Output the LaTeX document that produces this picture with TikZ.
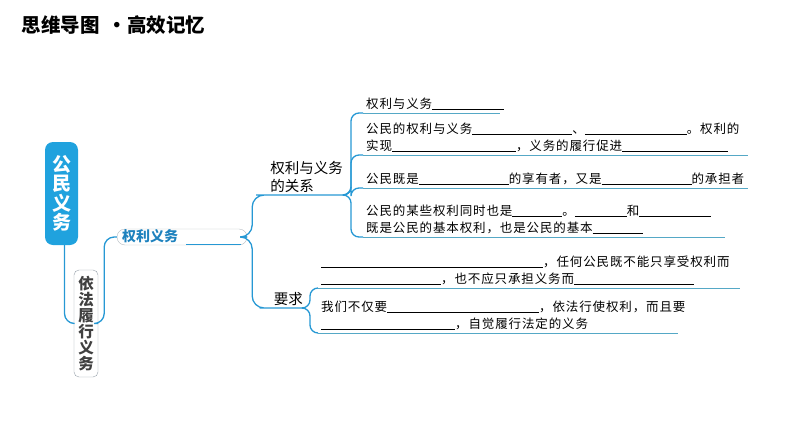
\documentclass[tikz,border=0pt]{standalone}
\usepackage{fontspec}
\setmainfont{Noto Sans CJK SC}
\newfontfamily\itemfont{Noto Sans CJK SC}[LetterSpace=7]
\usetikzlibrary{positioning, calc}
\definecolor{mapblue}{RGB}{32,162,222}
\definecolor{linkblue}{RGB}{38,152,212}
\definecolor{tealline}{RGB}{85,168,198}
\definecolor{framegray}{RGB}{150,160,170}
\definecolor{textblue}{RGB}{30,130,190}
\newcommand{\blank}[1]{\rule[-1.5pt]{#1pt}{0.5pt}}

\begin{document}
\begin{tikzpicture}[x=1pt, y=-1pt,
    rootbox/.style={rectangle, rounded corners=8pt, fill=mapblue, text=white,
                    minimum width=33pt, minimum height=103pt, inner sep=0pt, align=center,
                    font=\fontsize{19}{19.5}\selectfont\bfseries},
    dutybox/.style={rectangle, rounded corners=5pt, draw=framegray, fill=white, text=black!75,
                    minimum width=24pt, minimum height=107pt, inner sep=0pt, align=center,
                    font=\fontsize{15.5}{16}\selectfont\bfseries},
    rightbox/.style={rectangle, rounded corners=8pt, draw=framegray!70, thin,
                     text width=120pt, inner xsep=5pt, inner ysep=0.5pt, minimum height=16pt,
                     align=left, font=\fontsize{14}{15}\selectfont},
    topic/.style={inner sep=2pt, align=left, font=\fontsize{14.5}{18}\selectfont},
    item/.style={inner xsep=3pt, inner ysep=3pt, align=left, anchor=south west,
                 font=\itemfont\fontsize{12.5}{17}\selectfont},
    link/.style={linkblue, line width=1.3pt},
    itemline/.style={tealline, line width=1pt}]

\useasboundingbox (0,0) rectangle (794,447);

%% Title
\node[anchor=west, font=\fontsize{19.5}{20}\selectfont\bfseries] (title) at (18,25)
    {思维导图\hspace{8pt}·\hspace{0pt}高效记忆};

%% Root and first levels
\node[rootbox] (root) at (61.5,193.5) {公\\民\\义\\务};
\node[dutybox] (duty) at (86,323.5) {依\\法\\履\\行\\义\\务};
\node[rightbox] (rights) at (182,237)
    {{\color{textblue}\bfseries 权利义务}\hspace{8pt}\textcolor{linkblue}{\rule[-3pt]{55pt}{0.8pt}}};

%% Topics
\node[topic, anchor=south east] (rel) at (345,195) {权利与义务\\的关系};
\node[topic, anchor=south east] (req) at (305,308) {要求};

%% Items of the relation
\node[item, text width=131pt] (it1) at (363,113) {权利与义务\blank{72}};
\node[item, text width=379pt] (it2) at (363,155)
    {公民的权利与义务\blank{100}、\blank{102}。权利的\\
     实现\blank{124}，义务的履行促进\blank{106}};
\node[item, text width=379pt] (it3) at (363,188)
    {公民既是\blank{90}的享有者，又是\blank{90}的承担者};
\node[item, text width=356pt] (it4) at (363,237)
    {公民的某些权利同时也是\blank{50}。\blank{52}和\blank{72}\\
     既是公民的基本权利，也是公民的基本\blank{50}};

%% Items of the requirement
\node[item, text width=416pt] (itA) at (318,288)
    {\blank{222}，任何公民既不能只享受权利而\\
     \blank{120}，也不应只承担义务而\blank{120}};
\node[item, text width=354pt] (itB) at (318,333)
    {我们不仅要\blank{152}，依法行使权利，而且要\\
     \blank{134}，自觉履行法定的义务};

%% Connectors
\draw[link, rounded corners=10pt] ([xshift=3pt]root.south) |- (duty.west);
\draw[link, rounded corners=10pt] (duty.east) -- ++(6,0) |- (rights.west);
\draw[link, rounded corners=12pt] (rights.east) -- ++(5,0) |- (rel.south west) -- (rel.south east);
\draw[link, rounded corners=12pt] (rights.east) -- ++(5,0) |- (req.south west) -- (req.south east);

\foreach \it in {it1,it2,it3,it4}
    \draw[link, rounded corners=8pt] (rel.south east) -- ++(6,0) |- (\it.south west);
\foreach \it in {itA,itB}
    \draw[link, rounded corners=8pt] (req.south east) -- ++(5,0) |- (\it.south west);

\foreach \it in {it1,it2,it3,it4,itA,itB}
    \draw[itemline] (\it.south west) -- (\it.south east);

\end{tikzpicture}
\end{document}
